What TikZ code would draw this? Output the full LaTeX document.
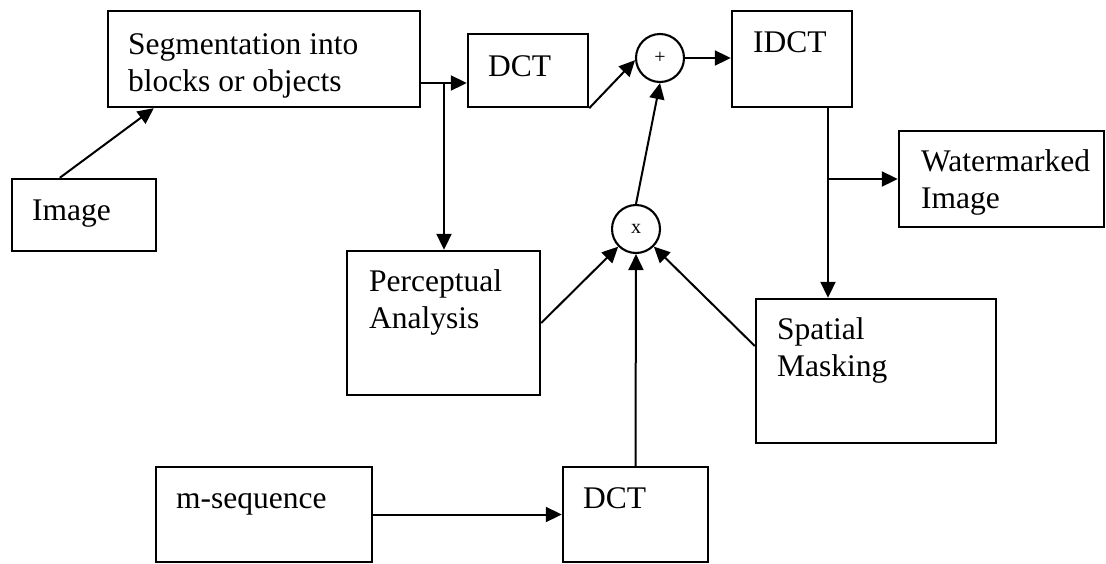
\documentclass[tikz,border=0pt]{standalone}
\usepackage{fontspec}
\setmainfont{Liberation Serif}
\usetikzlibrary{arrows.meta,calc}
\begin{document}
\begin{tikzpicture}[x=1pt,y=-1pt,
  blk/.style 2 args={draw, line width=2.4pt, inner sep=0pt, minimum width=#1, minimum height=#2},
  op/.style={draw, circle, line width=2.1pt, inner sep=0pt, minimum size=48pt,
    font=\fontsize{20}{20}\selectfont},
  lbl/.style={anchor=north west, inner sep=0pt, align=left,
    font=\fontsize{31.5}{37}\selectfont},
  conn/.style={line width=2pt, -{Triangle[length=16pt,width=15pt]}}]
\useasboundingbox (0,0) rectangle (1106,563);
\fill[white] (0,0) rectangle (1106,563);

% blocks
\node[blk={312pt}{96pt}]  (seg)     at (264,59)    {};
\node[blk={144pt}{72pt}]  (img)     at (84,215)    {};
\node[blk={120pt}{73pt}]  (dct1)    at (528,70.5)  {};
\node[blk={120pt}{96pt}]  (idct)    at (792,59)    {};
\node[blk={205pt}{96pt}]  (wm)      at (1001.5,179) {};
\node[blk={193pt}{144pt}] (percep)  at (443.5,323) {};
\node[blk={240pt}{144pt}] (spatial) at (876,371)   {};
\node[blk={216pt}{95pt}]  (mseq)    at (264,514.5) {};
\node[blk={145pt}{95pt}]  (dct2)    at (635.5,514.5) {};

% operators
\node[op] (plus)  at (660,58)  {+};
\node[op] (times) at (636,229) {x};

% block texts
\node[lbl] (tseg)     at (128,28.1)  {\strut Segmentation into\\blocks or objects};
\node[lbl] (timg)     at (32,194.1)  {\strut Image};
\node[lbl] (tdct1)    at (488,50.1)  {\strut DCT};
\node[lbl] (tidct)    at (753,26.1)  {\strut IDCT};
\node[lbl] (twm)      at (921,145.1) {\strut Watermarked\\Image};
\node[lbl] (tpercep)  at (369,265.1) {\strut Perceptual\\Analysis};
\node[lbl] (tspatial) at (777,313.1) {\strut Spatial\\Masking};
\node[lbl] (tmseq)    at (176,482.1) {\strut m-sequence};
\node[lbl] (tdct2)    at (583,482.1) {\strut DCT};

% junctions
\coordinate (j1) at (444,83);
\coordinate (j2) at (828,179);

% connectors
\draw[conn] ([xshift=49pt]img.north west) -- ([xshift=47pt]seg.south west);
\draw[conn] (seg.east |- j1) -- (dct1.west |- j1);
\draw[conn] (j1) -- (percep.north -| j1);
\draw[conn] (dct1.south east) -- (plus.185);
\draw[conn] (plus.east) -- (plus.east -| idct.west);
\draw[conn] (idct.south -| j2) -- (spatial.north -| j2);
\draw[conn] (j2) -- (wm.west |- j2);
\draw[conn] (times.north) -- (plus.south);
\draw[conn] (percep.east) -- (times);
\draw[conn] ([yshift=25pt]spatial.west) -- (times);
\draw[conn] (mseq.east) -- (mseq.east -| dct2.west);
\draw[conn] (dct2.north) -- (times.south);
\end{tikzpicture}
\end{document}
